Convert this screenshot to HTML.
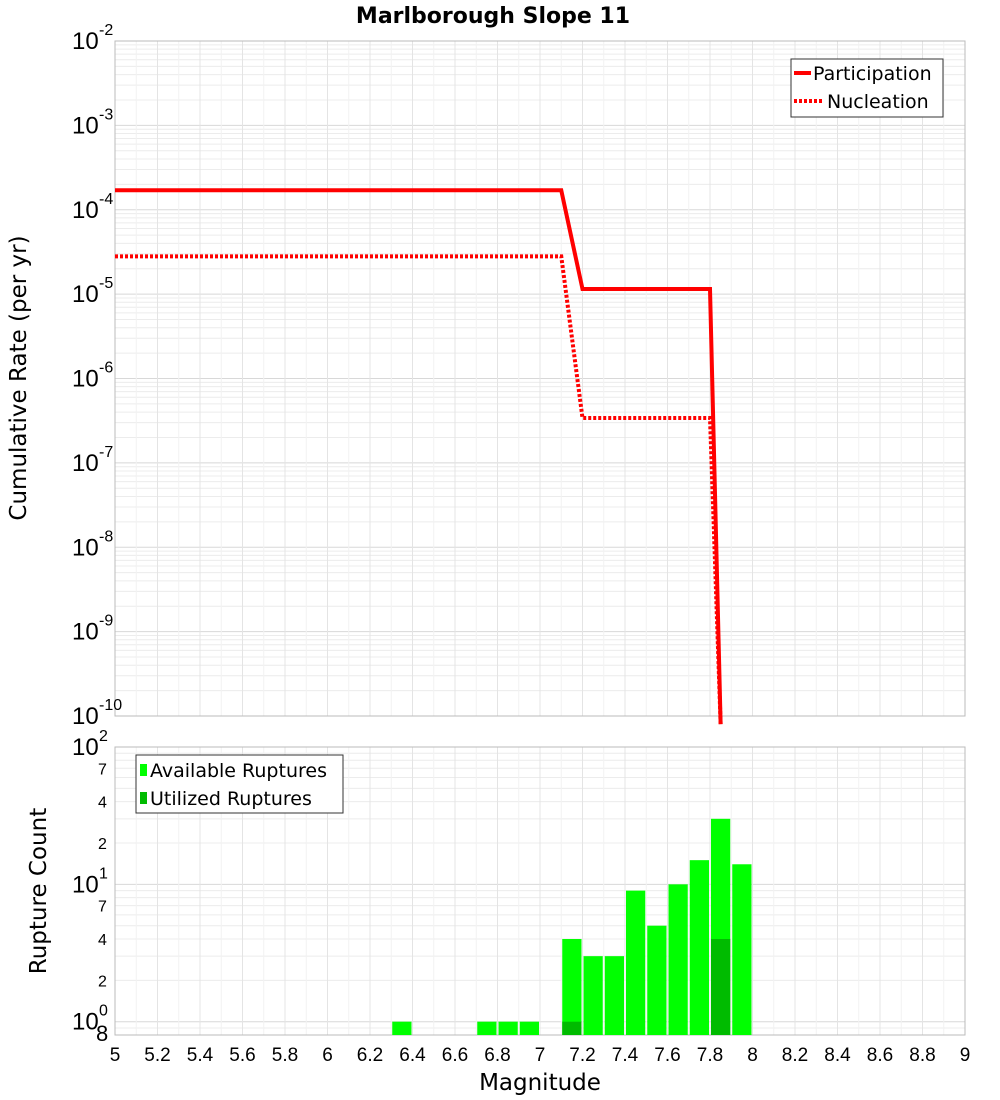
<!DOCTYPE html>
<html><head><meta charset="utf-8"><style>
body{margin:0;background:#fff;font-family:"Liberation Sans","DejaVu Sans",sans-serif}
svg{display:block}
</style></head><body>
<svg id="c" width="1000" height="1100" xmlns="http://www.w3.org/2000/svg" style="position:absolute;left:0;top:0">
<text x="493" y="23" text-anchor="middle" font-size="22" font-weight="bold" font-family="DejaVu Sans, Liberation Sans, sans-serif">Marlborough Slope 11</text>
<g id="topg"></g><g id="botg"></g>
</svg>
<script>
const partMags=[5,7.1,7.2,7.8,7.85];
const partRates=[1.7e-4,1.7e-4,1.15e-5,1.15e-5,8e-11];
const nuclMags=[5,7.1,7.2,7.8,7.85];
const nuclRates=[2.8e-5,2.8e-5,3.4e-7,3.4e-7,8e-11];
const binCenters=[6.35,6.75,6.85,6.95,7.15,7.25,7.35,7.45,7.55,7.65,7.75,7.85,7.95];
const availCounts=[1,1,1,1,4,3,3,9,5,10,15,30,14];
const usedCounts=[0,0,0,0,1,0,0,0,0,0,0,4,0];
const xTicks=[5,5.2,5.4,5.6,5.8,6,6.2,6.4,6.6,6.8,7,7.2,7.4,7.6,7.8,8,8.2,8.4,8.6,8.8,9];
const topExps=[-2,-3,-4,-5,-6,-7,-8,-9,-10];
const botTicks=[100,70,40,20,10,7,4,2,1,0.8];
const botLabels=["10|2","7","4","2","10|1","7","4","2","10|0","8"];
(function(){
const NS="http://www.w3.org/2000/svg";
const L=115,R=965,T1=41,B1=716,T2=747,B2=1035;
const x=m=>L+(m-5)/4*(R-L);
const y1=v=>T1+(-2-Math.log10(v))/8*(B1-T1);
const y2=v=>T2+(2-Math.log10(v))/(2-Math.log10(0.8))*(B2-T2);
function el(t,a,p){const e=document.createElementNS(NS,t);for(const k in a)e.setAttribute(k,a[k]);p.appendChild(e);return e;}
const topG=document.getElementById('topg'),botG=document.getElementById('botg');
for(let e=-10;e<-2;e++)for(let k=1;k<10;k++){const yy=y1(k*Math.pow(10,e));
const g=el('line',{x1:L,x2:R,y1:yy,y2:yy,stroke:k==1?'#d8d8d8':'#ececec','stroke-width':1},topG);

}
for(let e=-1;e<2;e++)for(let k=1;k<10;k++){const v=k*Math.pow(10,e);if(v<0.8)continue;const yy=y2(v);
const g=el('line',{x1:L,x2:R,y1:yy,y2:yy,stroke:k==1?'#d8d8d8':'#ececec','stroke-width':1},botG);

}
for(let i=0;i<=40;i++){const xx=x(5+i*0.1);
const a=el('line',{x1:xx,x2:xx,y1:T1,y2:B1,stroke:i%2?'#f2f2f2':'#e4e4e4'},topG);


const b=el('line',{x1:xx,x2:xx,y1:T2,y2:B2,stroke:i%2?'#f2f2f2':'#e4e4e4'},botG);

}
let f=el('rect',{x:L,y:T1,width:R-L,height:B1-T1,fill:'none',stroke:'#bbb'},topG);


f=el('rect',{x:L,y:T2,width:R-L,height:B2-T2,fill:'none',stroke:'#bbb'},botG);


const clip=el('clipPath',{id:'cp'},topG);el('rect',{x:L,y:T1-2,width:R-L,height:B1-T1+14},clip);
const pp=el('polyline',{points:partMags.map((m,i)=>x(m)+','+y1(partRates[i])).join(' '),fill:'none',stroke:'#f00','stroke-width':4,'clip-path':'url(#cp)'},topG);


const np=el('polyline',{points:nuclMags.map((m,i)=>x(m)+','+y1(nuclRates[i])).join(' '),fill:'none',stroke:'#f00','stroke-width':4,'stroke-dasharray':'3 2','clip-path':'url(#cp)'},topG);


topExps.forEach(e=>{const yy=y1(Math.pow(10,e));
const t=el('text',{x:72,y:yy+8,'font-size':24},topG);t.textContent='10';


const s=el('text',{x:99,y:yy-6,'font-size':16},topG);s.textContent=String(e);

});
const bw=(R-L)/40;
binCenters.forEach((c,i)=>{const r=el('rect',{x:x(c)-bw/2+1,y:y2(availCounts[i]),width:bw-2,height:B2-y2(availCounts[i]),fill:'#00ff00'},botG);


if(usedCounts[i]>0){const u=el('rect',{x:x(c)-bw/2+1,y:y2(usedCounts[i]),width:bw-2,height:B2-y2(usedCounts[i]),fill:'#00bb00'},botG);

}});
botTicks.forEach((v,i)=>{const yy=y2(v);const lb=botLabels[i];
if(lb.includes('|')){const [b,e]=lb.split('|');
const t=el('text',{x:72,y:yy+8,'font-size':24},botG);t.textContent=b;


const s=el('text',{x:99,y:yy-6,'font-size':16},botG);s.textContent=e;

}
else{const t=el('text',{x:i==9?96:98,y:yy+6,'font-size':i==9?22:16},botG);t.textContent=lb;

}});
xTicks.forEach(v=>{const t=el('text',{x:x(v),y:1061,'font-size':19,'text-anchor':'middle'},botG);t.textContent=String(v);

});
})();
</script>
<svg style="position:absolute;left:0;top:0" width="1000" height="1100">
<text x="540" y="1090" text-anchor="middle" font-size="23" font-family="DejaVu Sans, Liberation Sans, sans-serif">Magnitude</text>
<text transform="translate(26,378) rotate(-90)" text-anchor="middle" font-size="23" font-family="DejaVu Sans, Liberation Sans, sans-serif">Cumulative Rate (per yr)</text>
<text transform="translate(46,891) rotate(-90)" text-anchor="middle" font-size="23" font-family="DejaVu Sans, Liberation Sans, sans-serif">Rupture Count</text>
<g>
<rect x="791" y="59" width="152" height="58" fill="#fff" stroke="#333"/>
<line x1="794" y1="73" x2="811" y2="73" stroke="#f00" stroke-width="4"/>
<text x="813" y="80" font-size="19" font-family="DejaVu Sans, Liberation Sans, sans-serif">Participation</text>
<line x1="794" y1="101" x2="822" y2="101" stroke="#f00" stroke-width="4" stroke-dasharray="3 2"/>
<text x="827" y="108" font-size="19" font-family="DejaVu Sans, Liberation Sans, sans-serif">Nucleation</text>
</g>
<g>
<rect x="136" y="755" width="207" height="58" fill="#fff" stroke="#333"/>
<rect x="140" y="764" width="7" height="12" fill="#00ff00"/>
<text x="150" y="777" font-size="19" font-family="DejaVu Sans, Liberation Sans, sans-serif">Available Ruptures</text>
<rect x="140" y="792" width="7" height="12" fill="#00bb00"/>
<text x="150" y="805" font-size="19" font-family="DejaVu Sans, Liberation Sans, sans-serif">Utilized Ruptures</text>
</g>
</svg>
</body></html>
